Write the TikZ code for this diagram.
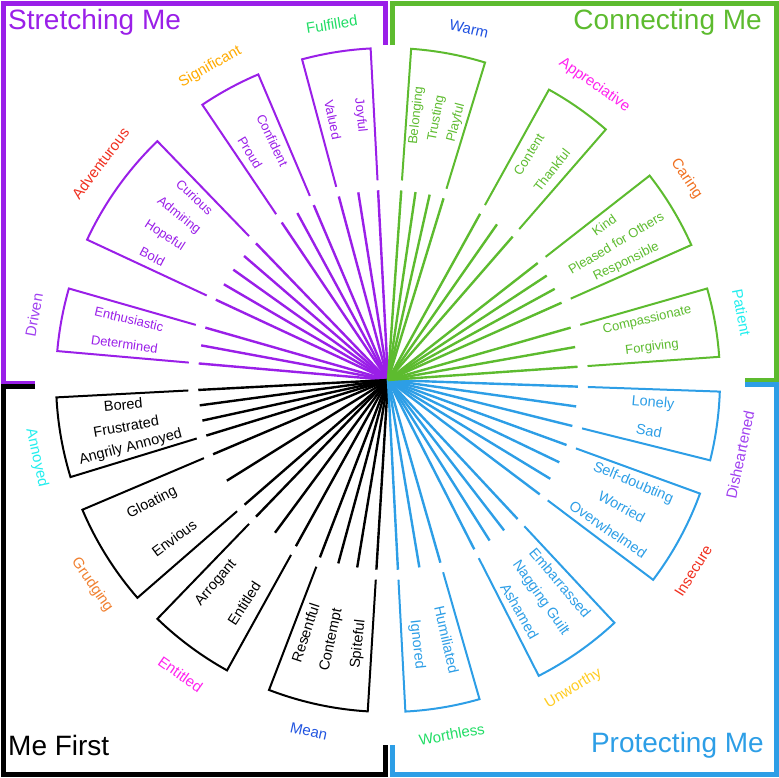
\documentclass[tikz,border=0pt]{standalone}
\usepackage{fontspec}
\setmainfont{Liberation Sans}
\usetikzlibrary{calc}
\definecolor{cpur}{HTML}{9A1FE8}
\definecolor{cgrn}{HTML}{5DBB2F}
\definecolor{cblu}{HTML}{2D9EE6}
\definecolor{cblk}{HTML}{000000}
\newcommand\grp[5]{%
 \pgfmathsetmacro\gs{#1}\pgfmathsetmacro\ge{#2}%
 \draw[#3,line width=2pt,line join=miter] ($(C)+(\gs:200pt)$) -- ($(C)+(\gs:332pt)$) arc[start angle=\gs,end angle=\ge,radius=332pt] -- ($(C)+(\ge:200pt)$);
 \foreach \t [count=\i] in {#4} {\xdef\gn{\i}}
 \foreach \k in {0,...,\gn} {\pgfmathsetmacro\a{\gs+\k*(\ge-\gs)/\gn}\draw[#3,line width=2.4pt] (C) -- ($(C)+(\a:190pt)$);}
 \foreach \t [count=\i] in {#4} {\pgfmathsetmacro\a{\gs+(\i-0.5)*(\ge-\gs)/\gn}\pgfmathsetmacro\r{cos(\a)<0 ? \a+180 : \a}%
   \node[text=#3,rotate=\r,font=\fontsize{#5}{#5}\selectfont,inner sep=0pt] at ($(C)+(\a:266pt)$) {\t};}
}
\begin{document}
\begin{tikzpicture}
\useasboundingbox (0,0) rectangle (779pt,-777pt);
\coordinate (C) at (388pt,-380pt);
% frames
\tikzset{frame/.style={line width=5pt}}
\draw[frame,cpur] (35pt,-383pt) -- (3pt,-383pt) -- (3pt,-3pt) -- (385pt,-3pt) -- (385pt,-45pt);
\draw[frame,cgrn] (392pt,-45pt) -- (392pt,-3pt) -- (776pt,-3pt) -- (776pt,-380pt) -- (745pt,-380pt);
\draw[frame,cblu] (745pt,-384pt) -- (776pt,-384pt) -- (776pt,-774pt) -- (392pt,-774pt) -- (392pt,-745pt);
\draw[frame,cblk] (35pt,-386pt) -- (3pt,-386pt) -- (3pt,-774pt) -- (385pt,-774pt) -- (385pt,-745pt);
% groups
\grp{93}{105}{cpur}{Joyful,Valued}{13}
\grp{113}{124}{cpur}{Confident,Proud}{13}
\grp{134}{155}{cpur}{Curious,Admiring,Hopeful,Bold}{13}
\grp{164}{175}{cpur}{Enthusiastic,Determined}{13}
\grp{183}{197}{cblk}{Bored,Frustrated,Angrily Annoyed}{14.5}
\grp{203}{221}{cblk}{Gloating,Envious}{14.5}
\grp{226}{241}{cblk}{Arrogant,Entitled}{14.5}
\grp{249}{266.5}{cblk}{Resentful,Contempt,Spiteful}{14.5}
\grp{-2}{-14}{cblu}{Lonely,Sad}{14.5}
\grp{-20}{-37}{cblu}{Self-doubting,Worried,Overwhelmed}{14.5}
\grp{-47}{-63}{cblu}{Embarrassed,Nagging Guilt,Ashamed}{14.5}
\grp{-74}{-87}{cblu}{Humiliated,Ignored}{14.5}
\grp{86}{73}{cgrn}{Belonging,Trusting,Playful}{13}
\grp{61}{49}{cgrn}{Content,Thankful}{13}
\grp{38}{24}{cgrn}{Kind,Pleased for Others,Responsible}{13}
\grp{16}{4}{cgrn}{Compassionate,Forgiving}{13}
% category labels
\foreach \a/\t/\c [count=\n] in {77/Warm/1E50E0,55/Appreciative/FF22EE,34/Caring/F07020,10.8/Patient/22EEEE,
 -12/Disheartened/A040F0,-32/Insecure/F03020,-59/Unworthy/FFCC22,-79.8/Worthless/22DD66,
 257.3/Mean/2255E0,234.8/Entitled/FF22EE,214.7/Grudging/F08030,192.5/Annoyed/22EEEE,
 169.6/Driven/A040F0,143/Adventurous/F03020,119.6/Significant/FFAA00,99/Fulfilled/22DD66}{
 \definecolor{lc}{HTML}{\c}
 \pgfmathsetmacro\r{sin(\a)>=0 ? \a-90 : \a+90}
 \node[text=lc,rotate=\r,font=\fontsize{15}{15}\selectfont,inner sep=0pt] (lab\n) at ($(C)+(\a:360pt)$) {\t};
}
% titles
\tikzset{title/.style={font=\fontsize{28}{28}\selectfont,inner sep=0pt}}
\node[title,text=cpur,anchor=west] (t1) at (8pt,-22pt) {Stretching Me};
\node[title,text=cgrn,anchor=east] (t2) at (762pt,-22pt) {Connecting Me};
\node[title,text=cblk,anchor=west] (t3) at (8pt,-745pt) {Me First};
\node[title,text=cblu,anchor=east] (t4) at (764pt,-745pt) {Protecting Me};
\end{tikzpicture}
\end{document}
